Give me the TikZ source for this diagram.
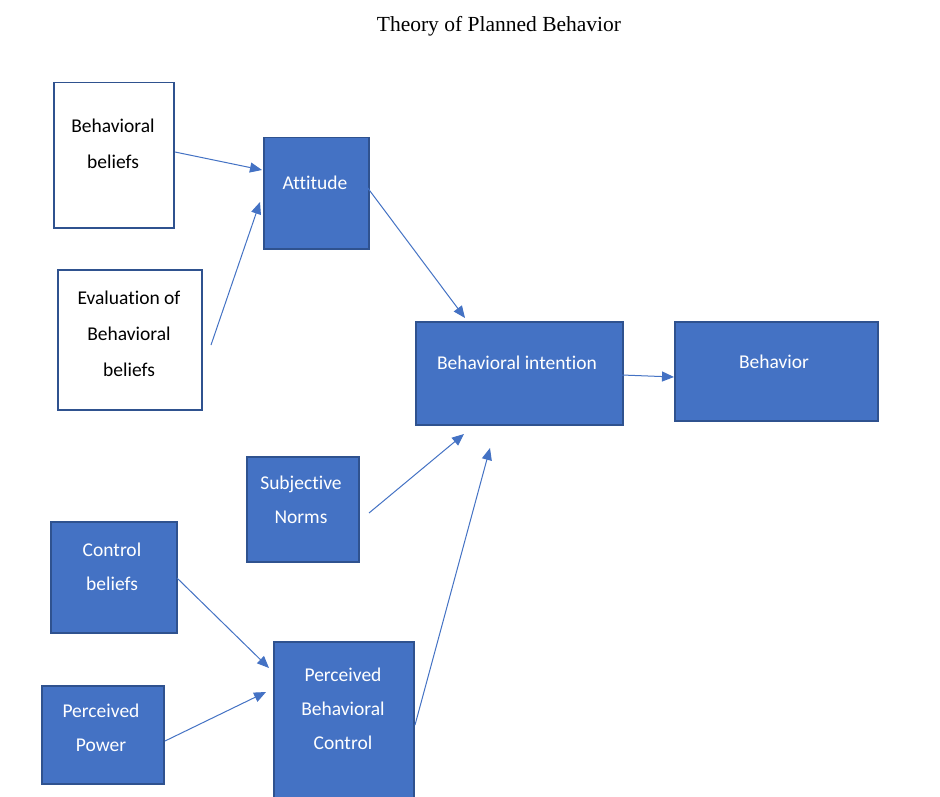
\documentclass[tikz,border=0pt]{standalone}
\usepackage{fontspec}
\setmainfont[Ligatures={NoCommon}]{Carlito}
\newfontfamily\titlefont{Liberation Serif}
\usetikzlibrary{arrows.meta}
\definecolor{boxblue}{HTML}{4472C4}
\definecolor{edgeblue}{HTML}{2F528F}
\tikzset{
  bluebox/.style={draw=edgeblue, line width=1.5pt, fill=boxblue, rectangle, inner sep=0pt},
  whitebox/.style={draw=edgeblue, line width=1.5pt, fill=white, rectangle, inner sep=0pt},
  wtext/.style={text=white, font=\fontsize{19.5}{34}\selectfont, align=center, inner sep=0pt},
  btext/.style={text=black, font=\fontsize{19.5}{36}\selectfont, align=center, inner sep=0pt},
  conn/.style={draw=boxblue, line width=1pt, -{Triangle[length=12pt,width=10pt]}}
}
\begin{document}
\begin{tikzpicture}[x=1pt,y=-1pt]
\useasboundingbox (0,0) rectangle (940,797);
\fill[white] (0,0) rectangle (940,797);
% title
\node[font=\titlefont\fontsize{21.5}{24}\selectfont, inner sep=0pt] (title) at (499,26) {Theory of Planned Behavior};
% boxes
\node[whitebox, minimum width=120pt, minimum height=145pt, anchor=north west] (bb) at (53,82) {};
\node[whitebox, minimum width=144pt, minimum height=140pt, anchor=north west] (ev) at (57,269) {};
\node[bluebox, minimum width=105pt, minimum height=111pt, anchor=north west] (att) at (263,137) {};
\node[bluebox, minimum width=207pt, minimum height=103pt, anchor=north west] (bi) at (415,321) {};
\node[bluebox, minimum width=203pt, minimum height=99pt, anchor=north west] (beh) at (674,321) {};
\node[bluebox, minimum width=112pt, minimum height=105pt, anchor=north west] (sn) at (246,456) {};
\node[bluebox, minimum width=126pt, minimum height=111pt, anchor=north west] (cb) at (50,521) {};
\node[bluebox, minimum width=122pt, minimum height=98pt, anchor=north west] (pp) at (41,685) {};
\node[bluebox, minimum width=140pt, minimum height=160pt, anchor=north west] (pbc) at (273,641) {};
% texts
\node[btext] (bbt) at (113,144) {Behavioral\\beliefs};
\node[btext] (evt) at (129,334) {Evaluation of\\Behavioral\\beliefs};
\node[wtext] (attt) at (315,183) {Attitude};
\node[wtext] (bit) at (517,363) {Behavioral intention};
\node[wtext] (beht) at (774,362) {Behavior};
\node[wtext] (snt) at (301,500) {Subjective\\Norms};
\node[wtext] (cbt) at (112,567) {Control\\beliefs};
\node[wtext] (ppt) at (101,728) {Perceived\\Power};
\node[wtext] (pbct) at (343,709) {Perceived\\Behavioral\\Control};
% connector ends
\coordinate (a1) at (175,152); \coordinate (a2) at (262,170);
\coordinate (b1) at (211,345); \coordinate (b2) at (260,202);
\coordinate (c1) at (367,187); \coordinate (c2) at (465,318);
\coordinate (d1) at (622,375); \coordinate (d2) at (674,377);
\coordinate (e1) at (369,513); \coordinate (e2) at (464,434);
\coordinate (f1) at (415,725); \coordinate (f2) at (490,448);
\coordinate (g1) at (177,578); \coordinate (g2) at (269,668);
\coordinate (h1) at (165,741); \coordinate (h2) at (266,692);
\draw[conn] (a1) -- (a2);
\draw[conn] (b1) -- (b2);
\draw[conn] (c1) -- (c2);
\draw[conn] (d1) -- (d2);
\draw[conn] (e1) -- (e2);
\draw[conn] (f1) -- (f2);
\draw[conn] (g1) -- (g2);
\draw[conn] (h1) -- (h2);
\end{tikzpicture}
\end{document}
